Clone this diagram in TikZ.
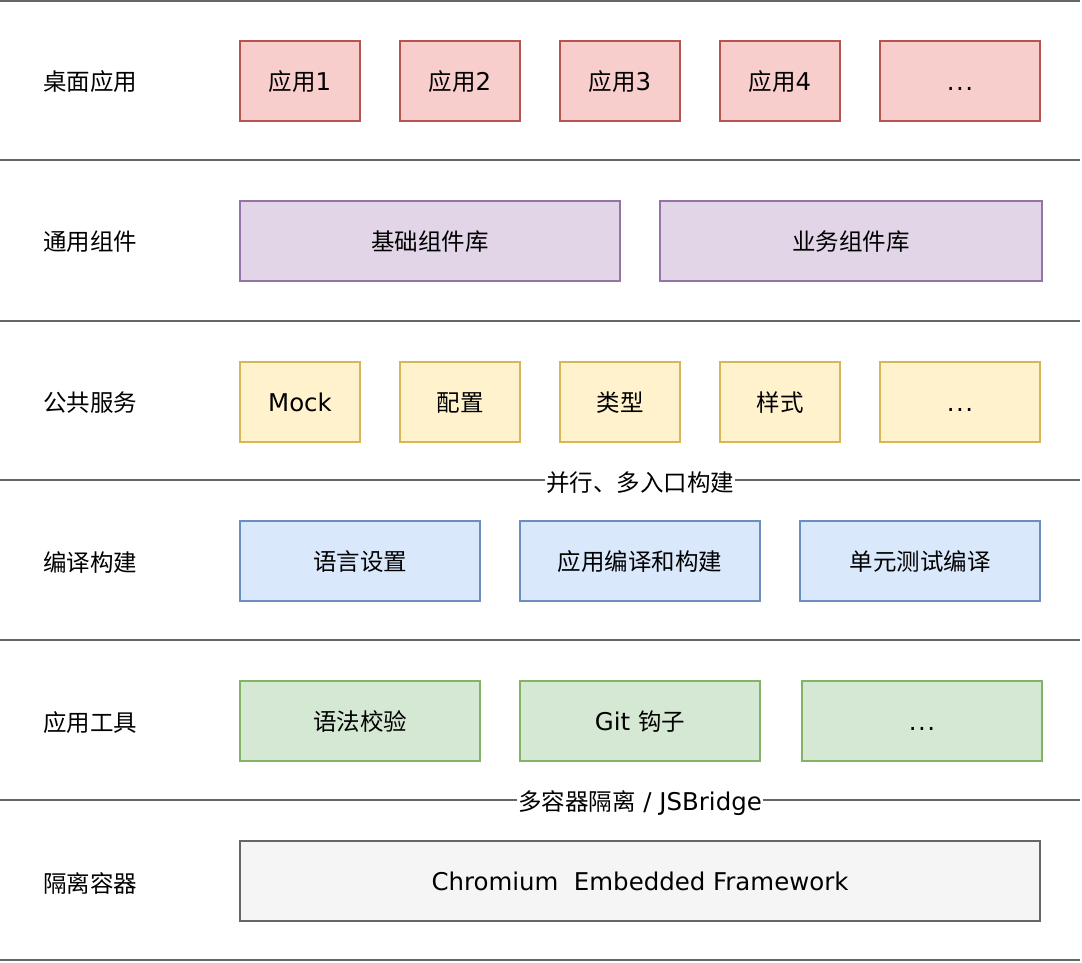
\documentclass[tikz,border=0pt]{standalone}
\usepackage{fontspec}
\setmainfont{DejaVu Sans}[Scale=1.04]
\newfontfamily\cjk{Noto Sans CJK SC}
\usetikzlibrary{positioning}

\definecolor{rule}{HTML}{666666}
\newcommand\bigtext{\fontsize{23.5}{28}\selectfont}
\tikzset{
  layer/.style={font=\cjk\bigtext},
  cell/.style={line width=1.5pt, minimum height=80pt, inner sep=0pt, text height=20pt, text depth=2pt, font=\bigtext},
  redcell/.style={cell, fill={rgb,255:red,248;green,206;blue,204}, draw={rgb,255:red,184;green,84;blue,80}},
  purplecell/.style={cell, fill={rgb,255:red,225;green,213;blue,231}, draw={rgb,255:red,150;green,115;blue,166}},
  yellowcell/.style={cell, fill={rgb,255:red,255;green,242;blue,204}, draw={rgb,255:red,214;green,182;blue,86}},
  bluecell/.style={cell, fill={rgb,255:red,218;green,232;blue,252}, draw={rgb,255:red,108;green,142;blue,191}},
  greencell/.style={cell, fill={rgb,255:red,213;green,232;blue,212}, draw={rgb,255:red,130;green,179;blue,102}},
  graycell/.style={cell, fill={rgb,255:red,245;green,245;blue,245}, draw=rule},
  tag/.style={fill=white, inner sep=1pt, font=\bigtext}
}

\begin{document}
\begin{tikzpicture}[x=1pt, y=-1pt]
  \useasboundingbox (0,0) rectangle (1082,962);
  \foreach \y in {1,160,321,480,640,800,960} \draw[rule, line width=1.2pt] (0,\y) -- (1080,\y);

  % layer names
  \node[layer] (desk) at (90,82) {桌面应用};
  \node[layer] (comp) at (90,242) {通用组件};
  \node[layer] (serv) at (90,403) {公共服务};
  \node[layer] (build) at (90,563) {编译构建};
  \node[layer] (tool) at (90,723) {应用工具};
  \node[layer] (cont) at (90,883) {隔离容器};

  % desktop apps
  \node[redcell, minimum width=120pt] (app1) at (300,81) {{\cjk 应用}1};
  \node[redcell, minimum width=120pt] (app2) at (460,81) {{\cjk 应用}2};
  \node[redcell, minimum width=120pt] (app3) at (620,81) {{\cjk 应用}3};
  \node[redcell, minimum width=120pt] (app4) at (780,81) {{\cjk 应用}4};
  \node[redcell, minimum width=160pt] (appx) at (960,81) {.\kern1.5pt.\kern1.5pt.};

  % components
  \node[purplecell, minimum width=380pt] (basic) at (430,241) {\cjk 基础组件库};
  \node[purplecell, minimum width=382pt] (biz) at (851,241) {\cjk 业务组件库};

  % services
  \node[yellowcell, minimum width=120pt] (mock) at (300,402) {Mock};
  \node[yellowcell, minimum width=120pt] (conf) at (460,402) {\cjk 配置};
  \node[yellowcell, minimum width=120pt] (type) at (620,402) {\cjk 类型};
  \node[yellowcell, minimum width=120pt] (style) at (780,402) {\cjk 样式};
  \node[yellowcell, minimum width=160pt] (servx) at (960,402) {.\kern1.5pt.\kern1.5pt.};

  % build
  \node[bluecell, minimum width=240pt] (lang) at (360,561) {\cjk 语言设置};
  \node[bluecell, minimum width=240pt] (compile) at (640,561) {\cjk 应用编译和构建};
  \node[bluecell, minimum width=240pt] (unit) at (920,561) {\cjk 单元测试编译};

  % tools
  \node[greencell, minimum width=240pt] (lint) at (360,721) {\cjk 语法校验};
  \node[greencell, minimum width=240pt] (hook) at (640,721) {Git {\cjk 钩子}};
  \node[greencell, minimum width=240pt] (toolx) at (922,721) {.\kern1.5pt.\kern1.5pt.};

  % container
  \node[graycell, minimum width=800pt] (cef) at (640,881) {Chromium\ \ Embedded Framework};

  \node[tag] (multi) at (640,483) {\cjk 并行、多入口构建};
  \node[tag] (bridge) at (640,803) {{\cjk 多容器隔离} / JSBridge};
\end{tikzpicture}
\end{document}
